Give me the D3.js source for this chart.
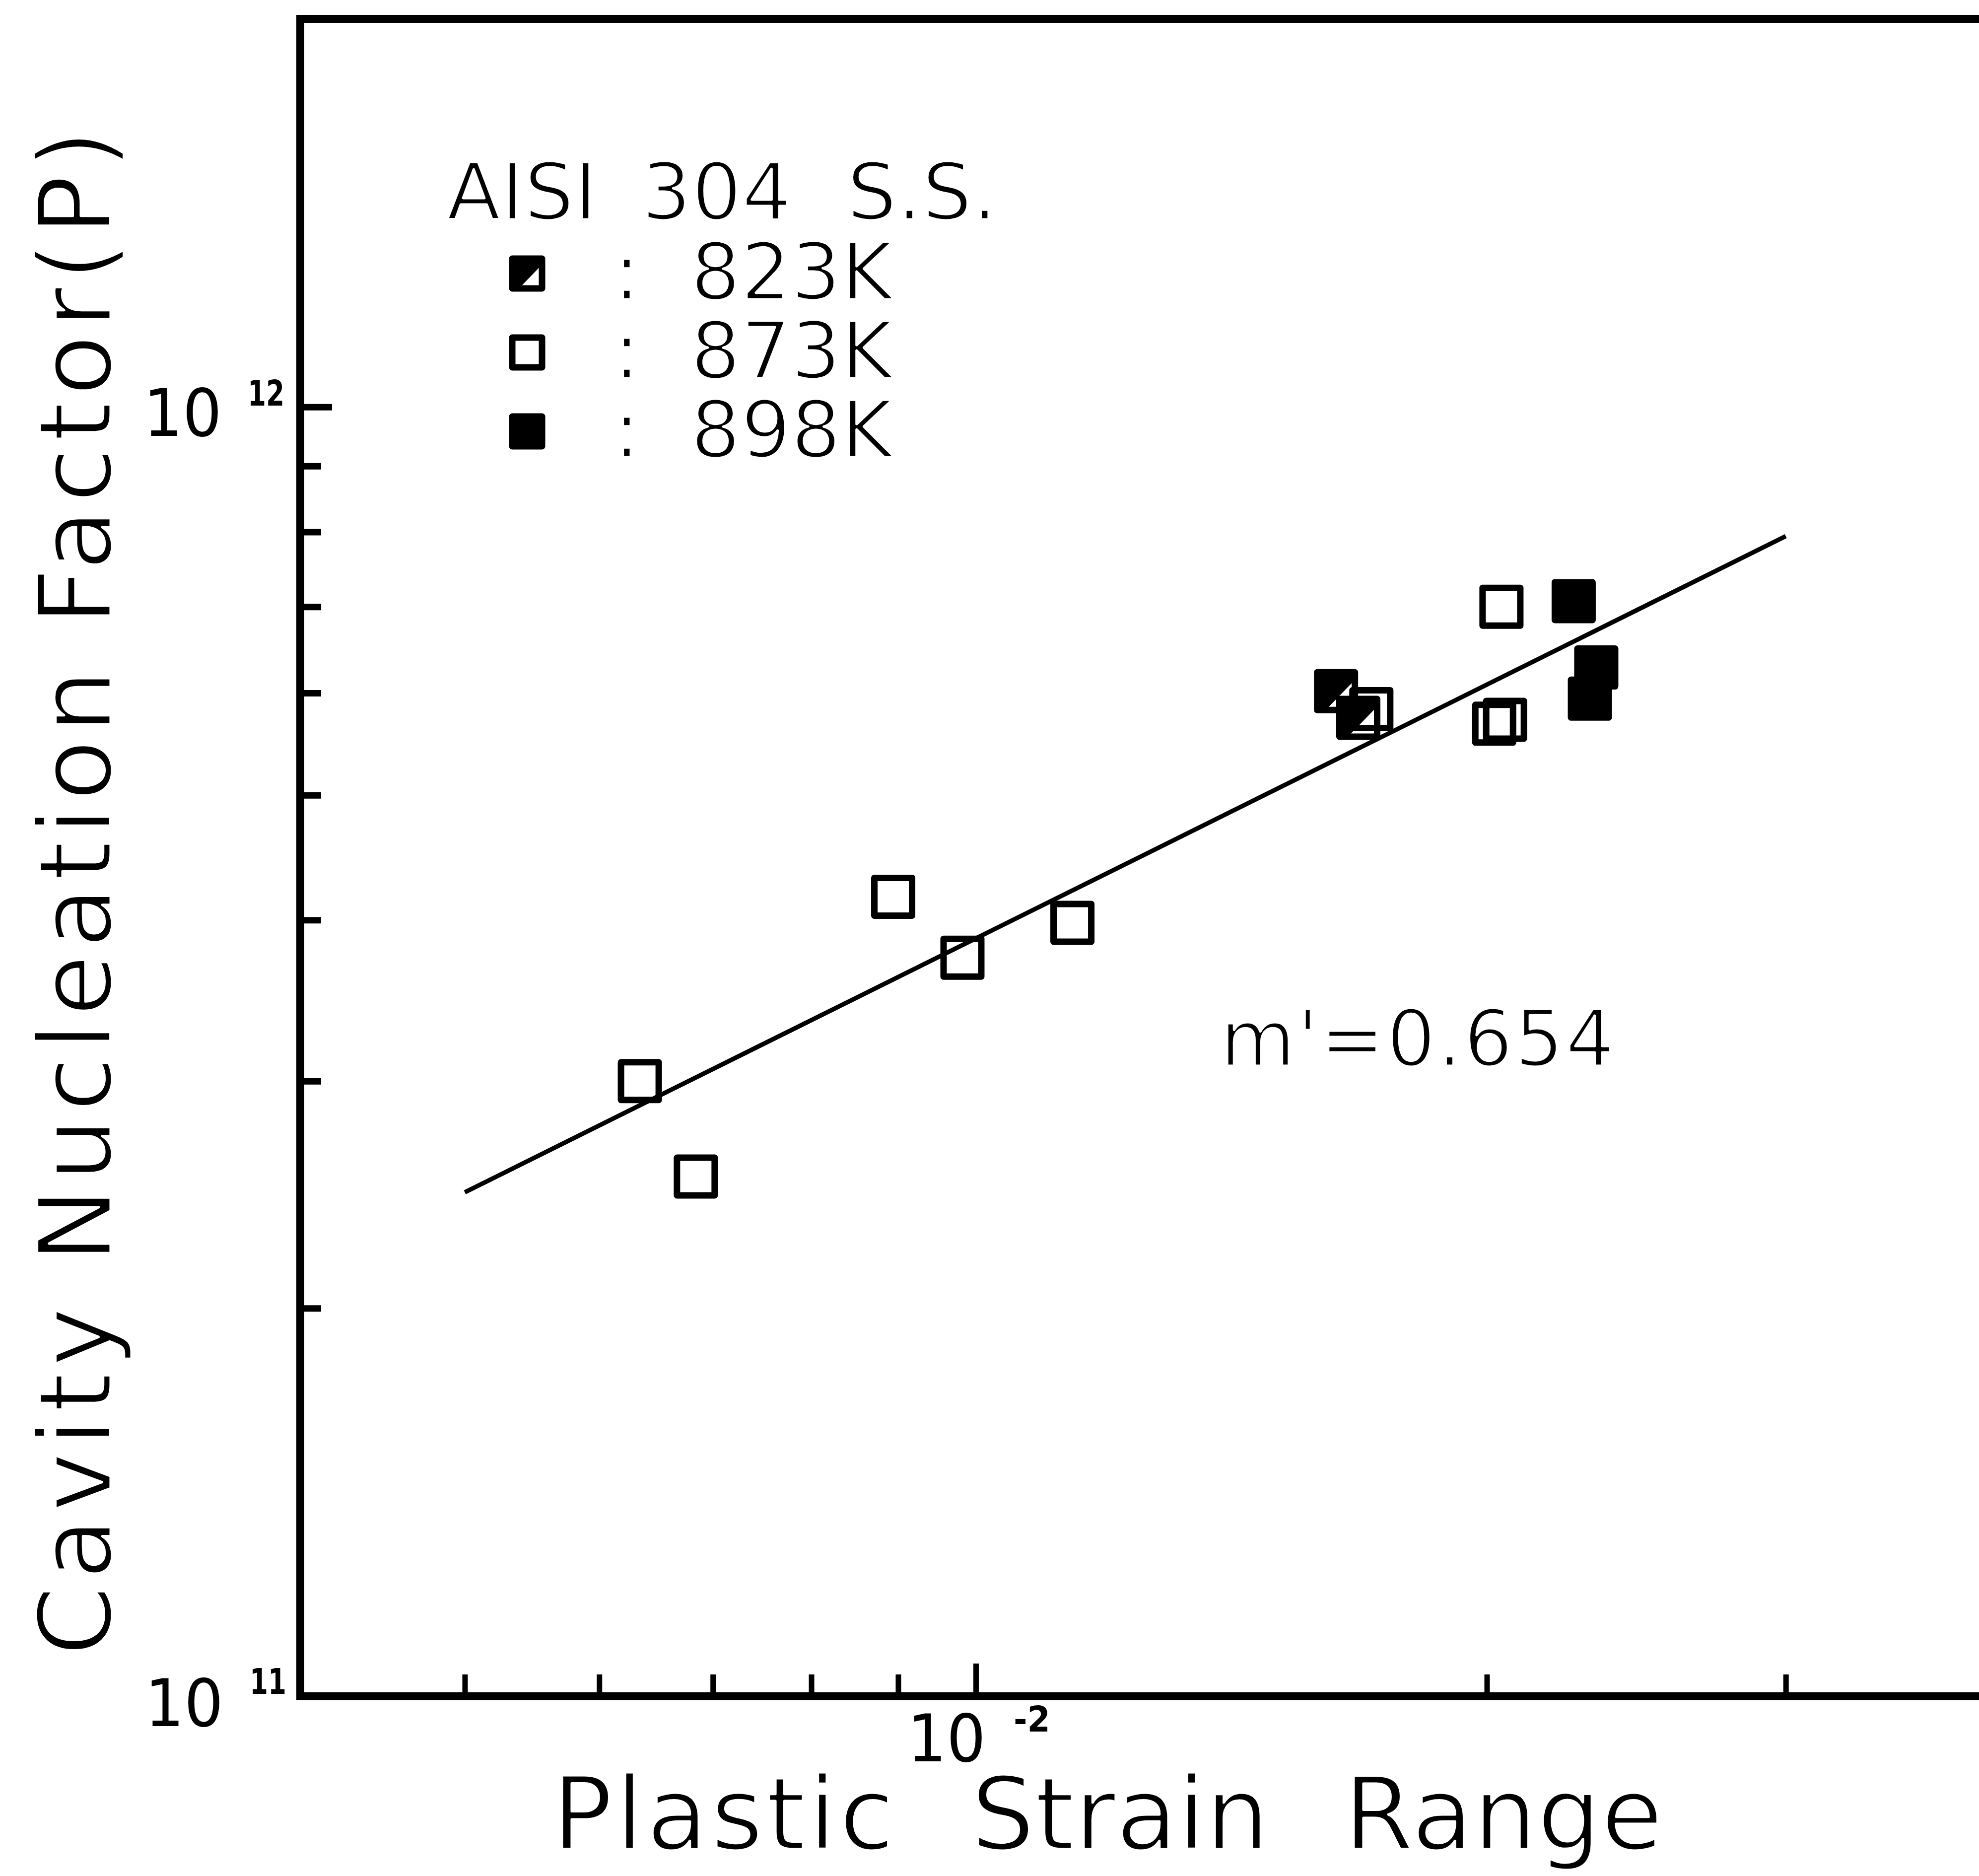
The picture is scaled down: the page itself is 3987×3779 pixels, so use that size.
<!DOCTYPE html>
<html>
<head>
<meta charset="utf-8">
<script src="https://d3js.org/d3.v7.min.js"></script>
<style>
  body { margin: 0; background: #fff; }
  text { font-family: "DejaVu Sans", sans-serif; fill: #000; }
  text.thin { stroke: #fff; stroke-width: 5px; stroke-linejoin: round; }
</style>
</head>
<body>
<div id="chart"></div>
<script>
// Data
// ==============================
var strain873 = [6.34e-3, 6.84e-3, 8.94e-3, 9.82e-3, 1.14e-2, 2.04e-2, 2.02e-2, 2.05e-2, 1.71e-2];
var factor873 = [3.00e11, 2.53e11, 4.17e11, 3.74e11, 3.98e11, 7.00e11, 5.68e11, 5.72e11, 5.83e11];

var strain823 = [1.63e-2, 1.68e-2];
var factor823 = [6.02e11, 5.74e11];

var strain898 = [2.25e-2, 2.32e-2, 2.30e-2];
var factor898 = [7.07e11, 6.28e11, 5.94e11];

// regression line end points, m' = 0.654
var fitStrain = [5e-3, 3e-2];
var fitFactor = [2.46e11, 7.94e11];

var xTicks = [5e-3, 6e-3, 7e-3, 8e-3, 9e-3, 1e-2, 2e-2, 3e-2];
var yTicks = [2e11, 3e11, 4e11, 5e11, 6e11, 7e11, 8e11, 9e11, 1e12];

var legendTitle = ["AISI", "304", "S.S."];
var legendLabels = ["823K", "873K", "898K"];
var slopeLabel = "m'=0.654";
var xTitle = ["Plastic", "Strain", "Range"];
var yTitle = "Cavity  Nucleation  Factor(P)";

var svgWidth = 3987;
var svgHeight = 3779;

var plot = { left: 605, right: 4025, top: 38, bottom: 3417 };

var svg = d3.select("#chart")
  .append("svg")
  .attr("width", svgWidth)
  .attr("height", svgHeight)
  .style("background", "#fff");

// Scales
// ==============================
var xLogScale = d3.scaleLog()
  .domain([4e-3, 4e-2])
  .range([plot.left, plot.right]);

var yLogScale = d3.scaleLog()
  .domain([1e11, 2e12])
  .range([plot.bottom, plot.top]);

// Axes (ticks point inward)
// ==============================
var bottomAxis = d3.axisBottom(xLogScale)
  .tickValues(xTicks)
  .tickSize(-42)
  .tickSizeOuter(0)
  .tickFormat("");

var leftAxis = d3.axisLeft(yLogScale)
  .tickValues(yTicks)
  .tickSize(-40)
  .tickSizeOuter(0)
  .tickFormat("");

var xAxisG = svg.append("g")
  .attr("transform", `translate(0, ${plot.bottom})`)
  .call(bottomAxis);

var yAxisG = svg.append("g")
  .attr("transform", `translate(${plot.left}, 0)`)
  .call(leftAxis);

xAxisG.select(".domain").remove();
yAxisG.select(".domain").remove();

xAxisG.selectAll(".tick line")
  .attr("stroke", "#000")
  .attr("stroke-width", 11)
  .attr("y2", d => d === 1e-2 ? -66 : -44);

yAxisG.selectAll(".tick line")
  .attr("stroke", "#000")
  .attr("stroke-width", 13)
  .attr("x2", d => d === 1e12 ? 64 : 42);

// Frame
svg.append("path")
  .attr("d", `M${plot.right},${plot.top} L${plot.left},${plot.top} L${plot.left},${plot.bottom} L${plot.right},${plot.bottom} Z`)
  .attr("stroke", "#000")
  .attr("stroke-width", 16)
  .attr("stroke-linecap", "square")
  .attr("fill", "none");

// Tick labels: 10 with a small raised exponent
// ==============================
function powerLabel(baseEnd, baseY, exp, supX, supY) {
  var t = svg.append("text");
  t.append("tspan")
    .attr("x", baseEnd - 160)
    .attr("y", baseY)
    .attr("textLength", 158)
    .attr("lengthAdjust", "spacingAndGlyphs")
    .style("font-size", "132px")
    .text("10");
  t.append("tspan")
    .attr("x", supX)
    .attr("y", supY)
    .attr("textLength", 74)
    .attr("lengthAdjust", "spacingAndGlyphs")
    .style("font-size", "72px")
    .style("font-weight", "bold")
    .text(exp);
}

powerLabel(449, yLogScale(1e12) + 58, "12", 499, yLogScale(1e12) - 3);
powerLabel(452, yLogScale(1e11) + 60, "11", 503, yLogScale(1e11) - 5);
powerLabel(xLogScale(1e-2) + 22, 3548, "-2", xLogScale(1e-2) + 76, 3488);

// Axis titles
// ==============================
var xTitleX = [1112, 1956, 2707];
var xTitleLen = [690, null, null];
var xt = svg.append("text")
  .attr("class", "thin")
  .attr("y", 3725)
  .style("font-size", "203px");
xTitle.forEach(function(w, i) {
  var ts = xt.append("tspan").attr("x", xTitleX[i]).text(w);
  if (xTitleLen[i]) ts.attr("textLength", xTitleLen[i]).attr("lengthAdjust", "spacing");
});

svg.append("text")
  .attr("class", "thin")
  .attr("transform", "translate(223, 3336) rotate(-90)")
  .attr("textLength", 3075)
  .attr("lengthAdjust", "spacing")
  .style("font-size", "203px")
  .text(yTitle);

// Fit line
// ==============================
var fitLine = d3.line()
  .x(d => xLogScale(d[0]))
  .y(d => yLogScale(d[1]));

svg.append("path")
  .datum(fitStrain.map((s, i) => [s, fitFactor[i]]))
  .attr("d", fitLine)
  .attr("fill", "none")
  .attr("stroke", "#000")
  .attr("stroke-width", 9);

// Markers
// ==============================
function halfPath(h) {
  return `M${-h},${-h} L${h},${-h} L${h},${-0.6 * h} L${-0.55 * h},${h} L${-h},${h} Z`;
}

function drawMarker(g, kind, side) {
  var h = side / 2;
  g.append("rect")
    .attr("x", -h)
    .attr("y", -h)
    .attr("width", side)
    .attr("height", side)
    .attr("fill", kind === "898" ? "#000" : "none")
    .attr("stroke", "#000")
    .attr("stroke-width", 13)
    .attr("stroke-linejoin", "round");
  if (kind === "823") {
    g.append("path")
      .attr("d", halfPath(h))
      .attr("fill", "#000");
  }
}

var pts873 = strain873.map((s, i) => ({ x: s, y: factor873[i], kind: "873" }));
var pts823 = strain823.map((s, i) => ({ x: s, y: factor823[i], kind: "823" }));
var pts898 = strain898.map((s, i) => ({ x: s, y: factor898[i], kind: "898" }));

svg.append("g")
  .selectAll("g")
  .data(pts873.concat(pts823, pts898))
  .enter()
  .append("g")
  .attr("transform", d => `translate(${xLogScale(d.x)}, ${yLogScale(d.y)})`)
  .each(function(d) { drawMarker(d3.select(this), d.kind, 76); });

// Slope annotation
svg.append("text")
  .attr("class", "thin")
  .attr("x", 2458)
  .attr("y", 2147)
  .attr("textLength", 795)
  .attr("lengthAdjust", "spacing")
  .style("font-size", "156px")
  .text(slopeLabel);

// Legend
// ==============================
var legendTitleX = [900, 1292, 1706];
var lt = svg.append("text")
  .attr("class", "thin")
  .attr("y", 442)
  .style("font-size", "159px");
legendTitle.forEach(function(w, i) {
  lt.append("tspan").attr("x", legendTitleX[i]).text(w);
});

var legendKinds = ["823", "873", "898"];
var legendRows = svg.append("g")
  .selectAll("g")
  .data(legendLabels)
  .enter()
  .append("g")
  .attr("transform", (d, i) => `translate(0, ${603 + i * 159})`);

legendRows.each(function(d, i) {
  var row = d3.select(this);
  var m = row.append("g").attr("transform", "translate(1062, -52)");
  drawMarker(m, legendKinds[i], 60);
  var t = row.append("text")
    .attr("class", "thin")
    .style("font-size", "159px");
  t.append("tspan")
    .attr("x", 1236)
    .text(":");
  t.append("tspan")
    .attr("x", 1391)
    .text(d);
});
</script>
</body>
</html>
